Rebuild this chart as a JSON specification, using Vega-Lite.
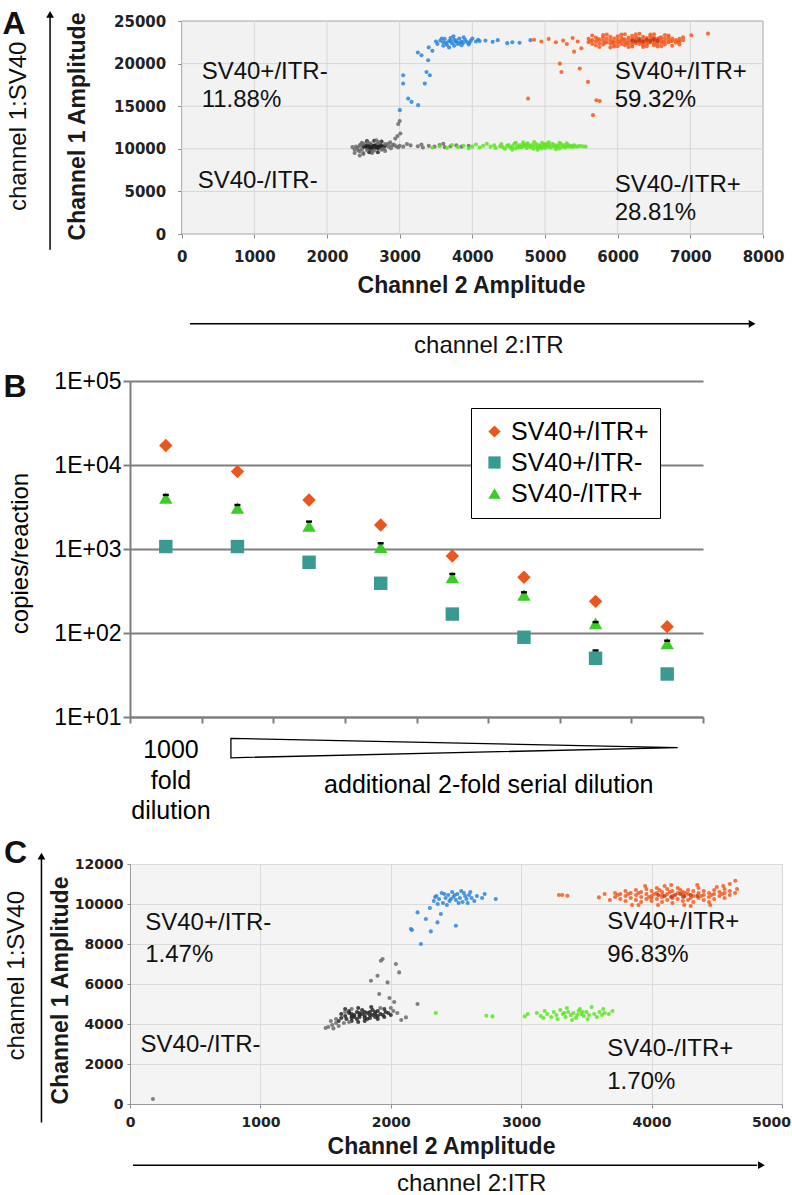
{
  "$schema": "https://vega.github.io/schema/vega-lite/v6.json",
  "background": "white",
  "padding": {"left": 2, "top": 7, "right": 0, "bottom": 0},
  "spacing": 12,
  "resolve": {"scale": {"color": "independent", "shape": "independent"}, "legend": {"color": "independent", "shape": "independent"}},
  "config": {"font": "Liberation Sans", "view": {"stroke": null}},
  "datasets": {
    "ptsA": [
      {"c":"k","x":2550,"y":10200},{"c":"k","x":2600,"y":10300},{"c":"k","x":2650,"y":10150},{"c":"k","x":2700,"y":10250},{"c":"k","x":2580,"y":10380},{"c":"k","x":2620,"y":10100},{"c":"k","x":2680,"y":10400},{"c":"k","x":2720,"y":10150},{"c":"k","x":2560,"y":10050},{"c":"k","x":2640,"y":10350},{"c":"k","x":2700,"y":10050},{"c":"k","x":2760,"y":10300},{"c":"k","x":2600,"y":10450},{"c":"k","x":2660,"y":10250},{"c":"k","x":2740,"y":10450},{"c":"k","x":2520,"y":10300},{"c":"k","x":2580,"y":10150},{"c":"k","x":2640,"y":10000},{"c":"k","x":2700,"y":10350},{"c":"k","x":2780,"y":10200},{"c":"k","x":2620,"y":10250},{"c":"k","x":2680,"y":10200},{"c":"k","x":2560,"y":10250},{"c":"k","x":2600,"y":10150},{"c":"k","x":2660,"y":10400},{"c":"k","x":2720,"y":10300},{"c":"k","x":2500,"y":10200},{"c":"k","x":2760,"y":10100},{"c":"k","x":2540,"y":10400},{"c":"k","x":2800,"y":10350},
      {"c":"k","x":2600,"y":9700},{"c":"k","x":2700,"y":9600},{"c":"k","x":2550,"y":10900},{"c":"k","x":2650,"y":10950},{"c":"k","x":2750,"y":10850},{"c":"h","x":2500,"y":9500},{"c":"h","x":2800,"y":9750},{"c":"h","x":2620,"y":9500},{"c":"h","x":2680,"y":11000},{"c":"k","x":2580,"y":9600},
      {"c":"h","x":2420,"y":10100},{"c":"h","x":2450,"y":10350},{"c":"h","x":2480,"y":9950},{"c":"h","x":2460,"y":10500},{"c":"h","x":2400,"y":10250},{"c":"h","x":2380,"y":9900},{"c":"h","x":2430,"y":9800},{"c":"h","x":2500,"y":10600},{"c":"h","x":2550,"y":9850},{"c":"h","x":2600,"y":10650},{"c":"h","x":2650,"y":9800},{"c":"h","x":2700,"y":10650},{"c":"h","x":2750,"y":9900},{"c":"h","x":2800,"y":10550},{"c":"h","x":2850,"y":10250},{"c":"h","x":2880,"y":10050},{"c":"h","x":2900,"y":10400},{"c":"h","x":2840,"y":10600},{"c":"h","x":2950,"y":10300},{"c":"h","x":2980,"y":10150},{"c":"h","x":2870,"y":10750},{"c":"h","x":2560,"y":10750},{"c":"h","x":2450,"y":9700},{"c":"h","x":2620,"y":9650},{"c":"h","x":2780,"y":10000},{"c":"h","x":2920,"y":10500},{"c":"h","x":2350,"y":10200},{"c":"h","x":2480,"y":10700},{"c":"h","x":2720,"y":10750},{"c":"h","x":3000,"y":10350},
      {"c":"h","x":3050,"y":10250},{"c":"h","x":3150,"y":10400},{"c":"h","x":3250,"y":10300},{"c":"h","x":3320,"y":10150},{"c":"h","x":3400,"y":10350},{"c":"h","x":3480,"y":10250},{"c":"h","x":3550,"y":10450},{"c":"h","x":3620,"y":10200},{"c":"h","x":3700,"y":10300},{"c":"h","x":3780,"y":10400},{"c":"h","x":3850,"y":10250},{"c":"h","x":3950,"y":10350},{"c":"h","x":3100,"y":10550},{"c":"h","x":3300,"y":10500},{"c":"h","x":3600,"y":10600},
      {"c":"h","x":2980,"y":12900},{"c":"h","x":3000,"y":13250},{"c":"h","x":2970,"y":11500},{"c":"h","x":3010,"y":11800},{"c":"h","x":2940,"y":11200},{"c":"h","x":2450,"y":9200},{"c":"h","x":2500,"y":9400},{"c":"h","x":2380,"y":9500},
      {"c":"g","x":3450,"y":10150},{"c":"g","x":3550,"y":10300},{"c":"g","x":3650,"y":10100},{"c":"g","x":3720,"y":10450},{"c":"g","x":3800,"y":10200},{"c":"g","x":3880,"y":10350},{"c":"g","x":3950,"y":10050},{"c":"g","x":4000,"y":10250},{"c":"g","x":4050,"y":10500},{"c":"g","x":4100,"y":10150},{"c":"g","x":4150,"y":10350},{"c":"g","x":4200,"y":10600},
      {"c":"g","x":4250,"y":10250},{"c":"g","x":4300,"y":10400},{"c":"g","x":4320,"y":10100},{"c":"g","x":4380,"y":10300},{"c":"g","x":4400,"y":10550},{"c":"g","x":4420,"y":10200},{"c":"g","x":4450,"y":10000},{"c":"g","x":4480,"y":10350},{"c":"g","x":4500,"y":10450},{"c":"g","x":4520,"y":10150},{"c":"g","x":4550,"y":10300},{"c":"g","x":4580,"y":10600},{"c":"g","x":4600,"y":10050},{"c":"g","x":4620,"y":10250},{"c":"g","x":4650,"y":10400},{"c":"g","x":4680,"y":10200},{"c":"g","x":4700,"y":10500},{"c":"g","x":4720,"y":10300},{"c":"g","x":4750,"y":10100},{"c":"g","x":4760,"y":10650},{"c":"g","x":4780,"y":10350},{"c":"g","x":4800,"y":10200},{"c":"g","x":4820,"y":10450},{"c":"g","x":4840,"y":10000},{"c":"g","x":4860,"y":10300},{"c":"g","x":4880,"y":10550},{"c":"g","x":4900,"y":10150},{"c":"g","x":4920,"y":10400},{"c":"g","x":4940,"y":10250},{"c":"g","x":4960,"y":10700},{"c":"g","x":4980,"y":10350},{"c":"g","x":5000,"y":10100},{"c":"g","x":5020,"y":10500},{"c":"g","x":5040,"y":10250},{"c":"g","x":5060,"y":10400},{"c":"g","x":5080,"y":10150},{"c":"g","x":5100,"y":10600},{"c":"g","x":5120,"y":10300},{"c":"g","x":5140,"y":10450},{"c":"g","x":5160,"y":10200},{"c":"g","x":5180,"y":10350},{"c":"g","x":5200,"y":10050},{"c":"g","x":5220,"y":10550},{"c":"g","x":5240,"y":10250},{"c":"g","x":5260,"y":10400},{"c":"g","x":5280,"y":10150},{"c":"g","x":5300,"y":10300},{"c":"g","x":5320,"y":10450},{"c":"g","x":5340,"y":10250},{"c":"g","x":5360,"y":10350},{"c":"g","x":5380,"y":10200},{"c":"g","x":5400,"y":10400},{"c":"g","x":5420,"y":10300},{"c":"g","x":5450,"y":10250},{"c":"g","x":5480,"y":10350},{"c":"g","x":5520,"y":10300},{"c":"g","x":5560,"y":10250},{"c":"g","x":4700,"y":10750},{"c":"g","x":4850,"y":10800},{"c":"g","x":5050,"y":10750},{"c":"g","x":4900,"y":9900},{"c":"g","x":5150,"y":9950},{"c":"g","x":4600,"y":10700},{"c":"g","x":5300,"y":10650},{"c":"g","x":4550,"y":9900},{"c":"g","x":5000,"y":10550},{"c":"g","x":4750,"y":10500},{"c":"g","x":4650,"y":10150},{"c":"g","x":4950,"y":10050},{"c":"g","x":5200,"y":10700},
      {"c":"b","x":3520,"y":22300},{"c":"b","x":3560,"y":22700},{"c":"b","x":3600,"y":22500},{"c":"b","x":3620,"y":22900},{"c":"b","x":3650,"y":22200},{"c":"b","x":3680,"y":22650},{"c":"b","x":3700,"y":23000},{"c":"b","x":3720,"y":22400},{"c":"b","x":3750,"y":22800},{"c":"b","x":3770,"y":22550},{"c":"b","x":3800,"y":22300},{"c":"b","x":3820,"y":22950},{"c":"b","x":3850,"y":22600},{"c":"b","x":3870,"y":22400},{"c":"b","x":3900,"y":22800},{"c":"b","x":3920,"y":22550},{"c":"b","x":3950,"y":22250},{"c":"b","x":3980,"y":22700},{"c":"b","x":4000,"y":22950},{"c":"b","x":4050,"y":22600},{"c":"b","x":4080,"y":22800},{"c":"b","x":3600,"y":22100},{"c":"b","x":3680,"y":21900},{"c":"b","x":3750,"y":22100},{"c":"b","x":3850,"y":22150},{"c":"b","x":3580,"y":22950},{"c":"b","x":3700,"y":22650},{"c":"b","x":3780,"y":22700},{"c":"b","x":3880,"y":23100},{"c":"b","x":3960,"y":22450},{"c":"b","x":3640,"y":22450},{"c":"b","x":3820,"y":22450},{"c":"b","x":3740,"y":23200},{"c":"b","x":4100,"y":22650},{"c":"b","x":3500,"y":22600},
      {"c":"b","x":4180,"y":22700},{"c":"b","x":4280,"y":22550},{"c":"b","x":4350,"y":22750},{"c":"b","x":4480,"y":22400},{"c":"b","x":4550,"y":22500},{"c":"b","x":4650,"y":22450},{"c":"b","x":4800,"y":22750},
      {"c":"b","x":3300,"y":20979},{"c":"b","x":3392,"y":20393},{"c":"b","x":3369,"y":19021},{"c":"b","x":3415,"y":18635},{"c":"b","x":3346,"y":17650},{"c":"b","x":3048,"y":18635},{"c":"b","x":3048,"y":17650},{"c":"b","x":3117,"y":15893},{"c":"b","x":3163,"y":15506},{"c":"b","x":3254,"y":15119},{"c":"b","x":3002,"y":14533},{"c":"b","x":3450,"y":21500},{"c":"b","x":3250,"y":21300},{"c":"b","x":3400,"y":21900},
      {"c":"o","x":4850,"y":22800},{"c":"o","x":4950,"y":22600},{"c":"o","x":5050,"y":22900},{"c":"o","x":5150,"y":22500},{"c":"o","x":5250,"y":22700},{"c":"o","x":5300,"y":22300},{"c":"o","x":5380,"y":23000},{"c":"o","x":5450,"y":22600},{"c":"o","x":5204,"y":19997},{"c":"o","x":5226,"y":19021},{"c":"o","x":5478,"y":19412},{"c":"o","x":5592,"y":17850},{"c":"o","x":5707,"y":15704},{"c":"o","x":5753,"y":15600},{"c":"o","x":5661,"y":13947},{"c":"o","x":4767,"y":15893},{"c":"o","x":7243,"y":23511},{"c":"o","x":7014,"y":23326},{"c":"o","x":5500,"y":21800},{"c":"o","x":5400,"y":21400},
      {"c":"o","x":5600,"y":22500},{"c":"o","x":5600,"y":22900},{"c":"o","x":5650,"y":22300},{"c":"o","x":5650,"y":22750},{"c":"o","x":5700,"y":22600},{"c":"o","x":5700,"y":23050},{"c":"o","x":5700,"y":22150},{"c":"o","x":5750,"y":22400},{"c":"o","x":5750,"y":22850},{"c":"o","x":5800,"y":22700},{"c":"o","x":5800,"y":22250},{"c":"o","x":5800,"y":23100},{"c":"o","x":5850,"y":22500},{"c":"o","x":5850,"y":22900},{"c":"o","x":5900,"y":22350},{"c":"o","x":5900,"y":22750},{"c":"o","x":5900,"y":23150},{"c":"o","x":5950,"y":22600},{"c":"o","x":5950,"y":22200},{"c":"o","x":5950,"y":22950},{"c":"o","x":6000,"y":22450},{"c":"o","x":6000,"y":22800},{"c":"o","x":6000,"y":23200},{"c":"o","x":6050,"y":22650},{"c":"o","x":6050,"y":22300},{"c":"o","x":6050,"y":23000},{"c":"o","x":6100,"y":22500},{"c":"o","x":6100,"y":22850},{"c":"o","x":6100,"y":22150},{"c":"o","x":6150,"y":22700},{"c":"o","x":6150,"y":22350},{"c":"o","x":6150,"y":23050},{"c":"o","x":6200,"y":22550},{"c":"o","x":6200,"y":22900},{"c":"o","x":6200,"y":22250},{"c":"o","x":6200,"y":23250},{"c":"o","x":6250,"y":22750},{"c":"o","x":6250,"y":22400},{"c":"o","x":6250,"y":23100},{"c":"o","x":6300,"y":22600},{"c":"o","x":6300,"y":22950},{"c":"o","x":6300,"y":22300},{"c":"o","x":6350,"y":22800},{"c":"o","x":6350,"y":22450},{"c":"o","x":6350,"y":23150},{"c":"o","x":6350,"y":22150},{"c":"o","x":6400,"y":22650},{"c":"o","x":6400,"y":23000},{"c":"o","x":6400,"y":22350},{"c":"o","x":6450,"y":22850},{"c":"o","x":6450,"y":22500},{"c":"o","x":6450,"y":23200},{"c":"o","x":6500,"y":22700},{"c":"o","x":6500,"y":22400},{"c":"o","x":6500,"y":23050},{"c":"o","x":6500,"y":22150},{"c":"o","x":6550,"y":22900},{"c":"o","x":6550,"y":22550},{"c":"o","x":6550,"y":22300},{"c":"o","x":6600,"y":22750},{"c":"o","x":6600,"y":23100},{"c":"o","x":6600,"y":22450},{"c":"o","x":6650,"y":22600},{"c":"o","x":6650,"y":22950},{"c":"o","x":6650,"y":22250},{"c":"o","x":6700,"y":22800},{"c":"o","x":6700,"y":22500},{"c":"o","x":6700,"y":23150},{"c":"o","x":6750,"y":22650},{"c":"o","x":6750,"y":22950},{"c":"o","x":6800,"y":22750},{"c":"o","x":6800,"y":22450},{"c":"o","x":6850,"y":22900},{"c":"o","x":6850,"y":22600},{"c":"o","x":6900,"y":22750},
      {"c":"o","x":5625,"y":22650},{"c":"o","x":5725,"y":22850},{"c":"o","x":5825,"y":22450},{"c":"o","x":5925,"y":22500},{"c":"o","x":6025,"y":22600},{"c":"o","x":6125,"y":22400},{"c":"o","x":6225,"y":22700},{"c":"o","x":6325,"y":22500},{"c":"o","x":6425,"y":22450},{"c":"o","x":6525,"y":22600},{"c":"o","x":6625,"y":22500},{"c":"o","x":6725,"y":22650},{"c":"o","x":6825,"y":22600},{"c":"o","x":6075,"y":22850},{"c":"o","x":6275,"y":22950},{"c":"o","x":6475,"y":22950},{"c":"o","x":6575,"y":23000},
      {"c":"o","x":5650,"y":23300},{"c":"o","x":5750,"y":21950},{"c":"o","x":5850,"y":23400},{"c":"o","x":5950,"y":22000},{"c":"o","x":6050,"y":23400},{"c":"o","x":6150,"y":21950},{"c":"o","x":6250,"y":23450},{"c":"o","x":6350,"y":21950},{"c":"o","x":6450,"y":23400},{"c":"o","x":6550,"y":22000},{"c":"o","x":6650,"y":23350},{"c":"o","x":6750,"y":22100},{"c":"o","x":5900,"y":21900},{"c":"o","x":6100,"y":23450},{"c":"o","x":6300,"y":23500},{"c":"o","x":6500,"y":23450},{"c":"o","x":6700,"y":23300},{"c":"o","x":6200,"y":22000},{"c":"o","x":6400,"y":22050},{"c":"o","x":6600,"y":22050},{"c":"o","x":6000,"y":22050},{"c":"o","x":5800,"y":23350},{"c":"o","x":6850,"y":22250},{"c":"o","x":6900,"y":23100},
      {"c":"r","x":6200,"y":22700},{"c":"r","x":6300,"y":22750},{"c":"r","x":6400,"y":22800},{"c":"r","x":6450,"y":22650},{"c":"r","x":6550,"y":22700},{"c":"r","x":6350,"y":22600},{"c":"r","x":6500,"y":22850},{"c":"r","x":6250,"y":22600}
    ],
    "ptsC": [
      {"c":"k","x":1650,"y":4400},{"c":"k","x":1680,"y":4550},{"c":"k","x":1700,"y":4300},{"c":"k","x":1720,"y":4450},{"c":"k","x":1740,"y":4600},{"c":"k","x":1760,"y":4350},{"c":"k","x":1780,"y":4500},{"c":"k","x":1800,"y":4400},{"c":"k","x":1820,"y":4550},{"c":"k","x":1840,"y":4300},{"c":"k","x":1860,"y":4450},{"c":"k","x":1880,"y":4600},{"c":"k","x":1900,"y":4400},{"c":"k","x":1920,"y":4500},{"c":"k","x":1700,"y":4500},{"c":"k","x":1760,"y":4450},{"c":"k","x":1800,"y":4600},{"c":"k","x":1840,"y":4450},{"c":"k","x":1880,"y":4350},{"c":"k","x":1660,"y":4250},{"c":"k","x":1740,"y":4250},{"c":"k","x":1820,"y":4250},{"c":"k","x":1900,"y":4650},{"c":"k","x":1940,"y":4450},{"c":"k","x":1960,"y":4600},{"c":"k","x":1620,"y":4300},{"c":"k","x":1680,"y":4650},{"c":"k","x":1780,"y":4700},{"c":"k","x":1860,"y":4700},{"c":"k","x":1720,"y":4350},{"c":"k","x":1800,"y":4300},{"c":"k","x":1880,"y":4500},{"c":"k","x":1760,"y":4550},{"c":"k","x":1840,"y":4600},{"c":"k","x":1700,"y":4400},{"c":"k","x":1950,"y":4350},{"c":"k","x":1980,"y":4550},{"c":"k","x":2000,"y":4450},{"c":"k","x":1620,"y":4500},{"c":"k","x":1600,"y":4150},
      {"c":"k","x":1750,"y":4800},{"c":"k","x":1850,"y":4850},{"c":"k","x":1650,"y":4750},{"c":"k","x":1950,"y":4750},{"c":"k","x":1800,"y":4150},{"c":"k","x":1700,"y":4150},{"c":"k","x":1900,"y":4250},{"c":"k","x":1750,"y":4100},
      {"c":"h","x":1580,"y":4050},{"c":"h","x":1550,"y":3950},{"c":"h","x":1520,"y":3850},{"c":"h","x":1500,"y":3800},{"c":"h","x":1560,"y":3780},{"c":"h","x":1600,"y":3900},{"c":"h","x":1640,"y":4050},{"c":"h","x":1680,"y":4100},{"c":"h","x":1580,"y":4250},{"c":"h","x":2020,"y":4650},{"c":"h","x":2050,"y":4550},{"c":"h","x":2000,"y":4800},{"c":"h","x":1920,"y":4800},{"c":"h","x":1700,"y":4750},{"c":"h","x":1650,"y":4600},{"c":"h","x":1540,"y":4150},
      {"c":"h","x":1924,"y":7165},{"c":"h","x":1848,"y":6165},{"c":"h","x":1898,"y":6415},{"c":"h","x":1911,"y":5500},{"c":"h","x":2039,"y":7000},{"c":"h","x":2064,"y":6580},{"c":"h","x":1975,"y":6080},{"c":"h","x":2026,"y":5100},{"c":"h","x":1990,"y":5300},{"c":"h","x":2205,"y":5000},{"c":"h","x":2116,"y":4330},{"c":"h","x":2080,"y":4200},{"c":"h","x":176,"y":250},{"c":"h","x":1937,"y":7250},
      {"c":"b","x":2330,"y":10150},{"c":"b","x":2350,"y":10400},{"c":"b","x":2370,"y":10250},{"c":"b","x":2390,"y":10550},{"c":"b","x":2400,"y":10050},{"c":"b","x":2420,"y":10300},{"c":"b","x":2440,"y":10450},{"c":"b","x":2450,"y":10150},{"c":"b","x":2470,"y":10600},{"c":"b","x":2480,"y":10350},{"c":"b","x":2500,"y":10200},{"c":"b","x":2510,"y":10500},{"c":"b","x":2530,"y":10300},{"c":"b","x":2540,"y":10650},{"c":"b","x":2550,"y":10100},{"c":"b","x":2570,"y":10400},{"c":"b","x":2580,"y":10250},{"c":"b","x":2600,"y":10450},{"c":"b","x":2620,"y":10300},{"c":"b","x":2640,"y":10150},{"c":"b","x":2660,"y":10400},{"c":"b","x":2700,"y":10300},{"c":"b","x":2360,"y":10000},{"c":"b","x":2430,"y":9950},{"c":"b","x":2520,"y":10050},{"c":"b","x":2460,"y":10250},{"c":"b","x":2560,"y":10550},{"c":"b","x":2610,"y":10600},{"c":"b","x":2490,"y":10450},{"c":"b","x":2410,"y":10500},{"c":"b","x":2340,"y":10350},{"c":"b","x":2590,"y":10050},
      {"c":"b","x":2805,"y":10250},{"c":"b","x":2205,"y":9580},{"c":"b","x":2269,"y":9250},{"c":"b","x":2358,"y":9080},{"c":"b","x":2154,"y":8750},{"c":"b","x":2162,"y":8700},{"c":"b","x":2307,"y":8630},{"c":"b","x":2231,"y":8000},{"c":"b","x":2499,"y":8915},{"c":"b","x":2384,"y":9500},{"c":"b","x":2300,"y":9800},{"c":"b","x":2720,"y":10500},
      {"c":"o","x":3289,"y":10450},{"c":"o","x":3315,"y":10450},{"c":"o","x":3354,"y":10415},{"c":"o","x":3596,"y":10330},{"c":"o","x":3640,"y":10500},{"c":"o","x":3680,"y":10200},{"c":"o","x":4642,"y":11165},{"c":"o","x":4655,"y":10750},{"c":"o","x":4600,"y":11000},
      {"c":"o","x":3720,"y":10350},{"c":"o","x":3720,"y":10550},{"c":"o","x":3760,"y":10250},{"c":"o","x":3760,"y":10500},{"c":"o","x":3800,"y":10400},{"c":"o","x":3800,"y":10150},{"c":"o","x":3800,"y":10650},{"c":"o","x":3840,"y":10300},{"c":"o","x":3840,"y":10550},{"c":"o","x":3880,"y":10450},{"c":"o","x":3880,"y":10200},{"c":"o","x":3880,"y":10700},{"c":"o","x":3920,"y":10350},{"c":"o","x":3920,"y":10100},{"c":"o","x":3920,"y":10600},{"c":"o","x":3960,"y":10500},{"c":"o","x":3960,"y":10250},{"c":"o","x":3960,"y":10750},{"c":"o","x":4000,"y":10400},{"c":"o","x":4000,"y":10150},{"c":"o","x":4000,"y":10650},{"c":"o","x":4000,"y":10300},{"c":"o","x":4040,"y":10550},{"c":"o","x":4040,"y":10250},{"c":"o","x":4040,"y":10800},{"c":"o","x":4080,"y":10350},{"c":"o","x":4080,"y":10100},{"c":"o","x":4080,"y":10600},{"c":"o","x":4080,"y":10450},{"c":"o","x":4120,"y":10500},{"c":"o","x":4120,"y":10200},{"c":"o","x":4120,"y":10750},{"c":"o","x":4160,"y":10400},{"c":"o","x":4160,"y":10050},{"c":"o","x":4160,"y":10650},{"c":"o","x":4160,"y":10300},{"c":"o","x":4200,"y":10550},{"c":"o","x":4200,"y":10250},{"c":"o","x":4200,"y":10800},{"c":"o","x":4240,"y":10350},{"c":"o","x":4240,"y":10150},{"c":"o","x":4240,"y":10600},{"c":"o","x":4240,"y":10450},{"c":"o","x":4280,"y":10500},{"c":"o","x":4280,"y":10200},{"c":"o","x":4280,"y":10700},{"c":"o","x":4320,"y":10400},{"c":"o","x":4320,"y":10100},{"c":"o","x":4320,"y":10650},{"c":"o","x":4360,"y":10550},{"c":"o","x":4360,"y":10300},{"c":"o","x":4360,"y":10800},{"c":"o","x":4400,"y":10450},{"c":"o","x":4400,"y":10200},{"c":"o","x":4400,"y":10650},{"c":"o","x":4440,"y":10350},{"c":"o","x":4440,"y":10550},{"c":"o","x":4440,"y":10100},{"c":"o","x":4480,"y":10500},{"c":"o","x":4480,"y":10250},{"c":"o","x":4480,"y":10700},{"c":"o","x":4520,"y":10400},{"c":"o","x":4520,"y":10600},{"c":"o","x":4560,"y":10300},{"c":"o","x":4560,"y":10550},{"c":"o","x":4560,"y":10750},{"c":"o","x":4600,"y":10450},{"c":"o","x":4600,"y":10650},{"c":"o","x":4640,"y":10550},
      {"c":"o","x":3740,"y":10450},{"c":"o","x":3820,"y":10500},{"c":"o","x":3900,"y":10550},{"c":"o","x":3980,"y":10350},{"c":"o","x":4060,"y":10700},{"c":"o","x":4140,"y":10600},{"c":"o","x":4220,"y":10700},{"c":"o","x":4300,"y":10300},{"c":"o","x":4380,"y":10400},{"c":"o","x":4460,"y":10450},{"c":"o","x":4540,"y":10500},{"c":"o","x":4020,"y":10500},{"c":"o","x":4260,"y":10550},
      {"c":"o","x":3850,"y":9950},{"c":"o","x":3950,"y":10900},{"c":"o","x":4050,"y":9950},{"c":"o","x":4150,"y":10950},{"c":"o","x":4250,"y":9950},{"c":"o","x":4350,"y":10950},{"c":"o","x":4450,"y":9950},{"c":"o","x":4550,"y":10900},{"c":"o","x":4100,"y":10900},{"c":"o","x":4300,"y":9900},{"c":"o","x":3900,"y":9950},{"c":"o","x":4500,"y":10850},
      {"c":"r","x":4100,"y":10400},{"c":"r","x":4180,"y":10450},{"c":"r","x":4250,"y":10380},{"c":"r","x":4300,"y":10450},{"c":"r","x":4150,"y":10350},{"c":"r","x":4220,"y":10500},{"c":"r","x":4350,"y":10400},{"c":"r","x":4050,"y":10450},
      {"c":"g","x":2345,"y":4550},{"c":"g","x":2733,"y":4415},{"c":"g","x":2780,"y":4380},{"c":"g","x":3027,"y":4380},{"c":"g","x":3050,"y":4500},
      {"c":"g","x":3120,"y":4550},{"c":"g","x":3150,"y":4400},{"c":"g","x":3180,"y":4650},{"c":"g","x":3200,"y":4500},{"c":"g","x":3230,"y":4350},{"c":"g","x":3250,"y":4600},{"c":"g","x":3270,"y":4450},{"c":"g","x":3300,"y":4700},{"c":"g","x":3320,"y":4500},{"c":"g","x":3340,"y":4350},{"c":"g","x":3360,"y":4600},{"c":"g","x":3380,"y":4450},{"c":"g","x":3400,"y":4550},{"c":"g","x":3420,"y":4300},{"c":"g","x":3440,"y":4650},{"c":"g","x":3460,"y":4500},{"c":"g","x":3480,"y":4400},{"c":"g","x":3500,"y":4600},{"c":"g","x":3520,"y":4450},{"c":"g","x":3540,"y":4850},{"c":"g","x":3560,"y":4500},{"c":"g","x":3580,"y":4350},{"c":"g","x":3600,"y":4600},{"c":"g","x":3620,"y":4450},{"c":"g","x":3640,"y":4550},{"c":"g","x":3672,"y":4500},{"c":"g","x":3629,"y":4750},{"c":"g","x":3350,"y":4800},{"c":"g","x":3450,"y":4750},{"c":"g","x":3280,"y":4250},{"c":"g","x":3390,"y":4200},{"c":"g","x":3700,"y":4650},{"c":"g","x":3170,"y":4300},{"c":"g","x":3510,"y":4250},{"c":"g","x":3430,"y":4450},{"c":"g","x":3330,"y":4550},{"c":"g","x":3470,"y":4600}
    ],
    "ptsB": [
      {"i":1,"v":17100,"s":"SV40+/ITR+"},{"i":2,"v":8340,"s":"SV40+/ITR+"},{"i":3,"v":3830,"s":"SV40+/ITR+"},{"i":4,"v":1930,"s":"SV40+/ITR+"},{"i":5,"v":826,"s":"SV40+/ITR+"},{"i":6,"v":460,"s":"SV40+/ITR+"},{"i":7,"v":238,"s":"SV40+/ITR+"},{"i":8,"v":119,"s":"SV40+/ITR+"},
      {"i":1,"v":1070,"s":"SV40+/ITR-"},{"i":2,"v":1070,"s":"SV40+/ITR-"},{"i":3,"v":695,"s":"SV40+/ITR-"},{"i":4,"v":391,"s":"SV40+/ITR-"},{"i":5,"v":168,"s":"SV40+/ITR-"},{"i":6,"v":89,"s":"SV40+/ITR-"},{"i":7,"v":50,"s":"SV40+/ITR-"},{"i":8,"v":32.5,"s":"SV40+/ITR-"},
      {"i":1,"v":4050,"s":"SV40-/ITR+"},{"i":2,"v":3080,"s":"SV40-/ITR+"},{"i":3,"v":1880,"s":"SV40-/ITR+"},{"i":4,"v":1050,"s":"SV40-/ITR+"},{"i":5,"v":460,"s":"SV40-/ITR+"},{"i":6,"v":283,"s":"SV40-/ITR+"},{"i":7,"v":130,"s":"SV40-/ITR+"},{"i":8,"v":75,"s":"SV40-/ITR+"}
    ],
    "capsB": [
      {"i":1,"v":4400},{"i":2,"v":3340},{"i":3,"v":2120},{"i":4,"v":1170},{"i":5,"v":504},{"i":6,"v":305},{"i":7,"v":135},{"i":8,"v":81},{"i":7,"v":62}
    ]
  },
  "vconcat": [
    {
      "width": 633,
      "height": 213,
      "layer": [
        {
          "data": {"values": [{"x1":0,"x2":8000,"y1":0,"y2":25000}]},
          "mark": {"type": "rect", "fill": "#F2F2F2", "stroke": "#A6A6A6", "strokeWidth": 1},
          "encoding": {
            "x": {"field": "x1", "type": "quantitative", "scale": {"domain": [-711, 8000], "nice": false, "zero": false}},
            "x2": {"field": "x2"},
            "y": {"field": "y1", "type": "quantitative", "scale": {"domain": [0, 25000], "nice": false}},
            "y2": {"field": "y2"}
          }
        },
        {
          "data": {"values": [{"gx":1000},{"gx":2000},{"gx":3000},{"gx":4000},{"gx":5000},{"gx":6000},{"gx":7000}]},
          "mark": {"type": "rule", "color": "#D6D6D6", "strokeWidth": 1},
          "encoding": {
            "x": {"field": "gx", "type": "quantitative", "scale": {"domain": [-711, 8000], "nice": false, "zero": false}},
            "y": {"datum": 0, "type": "quantitative", "scale": {"domain": [0, 25000], "nice": false}},
            "y2": {"datum": 25000}
          }
        },
        {
          "data": {"values": [{"gy":5000},{"gy":10000},{"gy":15000},{"gy":20000}]},
          "mark": {"type": "rule", "color": "#D6D6D6", "strokeWidth": 1},
          "encoding": {
            "y": {"field": "gy", "type": "quantitative", "scale": {"domain": [0, 25000], "nice": false}},
            "x": {"datum": 0, "type": "quantitative", "scale": {"domain": [-711, 8000], "nice": false, "zero": false}},
            "x2": {"datum": 8000}
          }
        },
        {
          "data": {"name": "ptsA"},
          "mark": {"type": "circle", "size": 17, "opacity": 0.85},
          "encoding": {
            "x": {"field": "x", "type": "quantitative", "scale": {"domain": [-711, 8000], "nice": false, "zero": false},
              "axis": {"values": [0,1000,2000,3000,4000,5000,6000,7000,8000], "format": "d", "domain": false, "grid": false, "title": "Channel 2 Amplitude", "titleFont": "Liberation Sans", "titleFontSize": 23, "titleFontWeight": "bold", "titleColor": "#1a1a1a", "titleX": 341, "titleY": 51, "titleBaseline": "middle", "titleAlign": "center", "labelFont": "DejaVu Sans", "labelFontWeight": "bold", "labelFontSize": 15, "labelColor": "#222", "labelPadding": 11, "labelFlush": false, "labelOverlap": false, "labelSeparation": 0, "tickSize": 4, "tickColor": "#8a8a8a"}},
            "y": {"field": "y", "type": "quantitative", "scale": {"domain": [0, 25000], "nice": false},
              "axis": {"values": [0,5000,10000,15000,20000,25000], "format": "d", "offset": -51.7, "domain": false, "grid": false, "title": "Channel 1 Amplitude", "titleFont": "Liberation Sans", "titleFontSize": 23, "titleFontWeight": "bold", "titleColor": "#1a1a1a", "titleX": -104, "titleY": 105, "titleAngle": 270, "titleBaseline": "middle", "titleAlign": "center", "labelFont": "DejaVu Sans", "labelFontWeight": "bold", "labelFontSize": 15, "labelColor": "#222", "labelPadding": 12, "labelFlush": false, "labelOverlap": false, "labelSeparation": 0, "tickSize": 4, "tickColor": "#8a8a8a"}},
            "color": {"field": "c", "type": "nominal", "scale": {"domain": ["k","h","g","b","o","r"], "range": ["#262626","#6b6b6b","#5BE620","#2A86DE","#F45A1E","#BF3A18"]}, "legend": null}
          }
        },
        {
          "data": {"values": [{"t":"SV40+/ITR-","x":275,"y":18202},{"t":"11.88%","x":275,"y":14920},{"t":"SV40-/ITR-","x":220,"y":5344},{"t":"SV40+/ITR+","x":5959,"y":18202},{"t":"59.32%","x":5959,"y":14920},{"t":"SV40-/ITR+","x":5959,"y":4876},{"t":"28.81%","x":5959,"y":1641}]},
          "mark": {"type": "text", "align": "left", "baseline": "alphabetic", "fontSize": 24, "font": "Liberation Sans", "color": "#111"},
          "encoding": {
            "x": {"field": "x", "type": "quantitative", "scale": {"domain": [-711, 8000], "nice": false, "zero": false}},
            "y": {"field": "y", "type": "quantitative", "scale": {"domain": [0, 25000], "nice": false}},
            "text": {"field": "t"}
          }
        },
        {
          "data": {"values": [{"t":"A","x":-2306,"y":23475}]},
          "mark": {"type": "text", "align": "center", "baseline": "alphabetic", "fontSize": 32, "fontWeight": "bold", "font": "Liberation Sans", "color": "#111"},
          "encoding": {
            "x": {"field": "x", "type": "quantitative", "scale": {"domain": [-711, 8000], "nice": false, "zero": false}},
            "y": {"field": "y", "type": "quantitative", "scale": {"domain": [0, 25000], "nice": false}},
            "text": {"field": "t"}
          }
        },
        {
          "data": {"values": [{"t":"channel 1:SV40","x":-2238,"y":12634}]},
          "mark": {"type": "text", "align": "center", "baseline": "middle", "angle": 270, "fontSize": 24, "font": "Liberation Sans", "color": "#111"},
          "encoding": {
            "x": {"field": "x", "type": "quantitative", "scale": {"domain": [-711, 8000], "nice": false, "zero": false}},
            "y": {"field": "y", "type": "quantitative", "scale": {"domain": [0, 25000], "nice": false}},
            "text": {"field": "t"}
          }
        },
        {
          "data": {"values": [{"t":"channel 2:ITR","x":4226,"y":-13091}]},
          "mark": {"type": "text", "align": "center", "baseline": "middle", "fontSize": 24, "font": "Liberation Sans", "color": "#111"},
          "encoding": {
            "x": {"field": "x", "type": "quantitative", "scale": {"domain": [-711, 8000], "nice": false, "zero": false}},
            "y": {"field": "y", "type": "quantitative", "scale": {"domain": [0, 25000], "nice": false}},
            "text": {"field": "t"}
          }
        },
        {
          "data": {"values": [{"x1":-1811,"x2":-1811,"y1":-1840,"y2":25700},{"x1":114,"x2":7820,"y1":-10548,"y2":-10548}]},
          "mark": {"type": "rule", "color": "black", "strokeWidth": 1.5},
          "encoding": {
            "x": {"field": "x1", "type": "quantitative", "scale": {"domain": [-711, 8000], "nice": false, "zero": false}},
            "x2": {"field": "x2"},
            "y": {"field": "y1", "type": "quantitative", "scale": {"domain": [0, 25000], "nice": false}},
            "y2": {"field": "y2"}
          }
        },
        {
          "data": {"values": [{"x":-1811,"y":25780,"s":"triangle-up"},{"x":7850,"y":-10548,"s":"triangle-right"}]},
          "mark": {"type": "point", "filled": true, "color": "black", "size": 60, "opacity": 1},
          "encoding": {
            "x": {"field": "x", "type": "quantitative", "scale": {"domain": [-711, 8000], "nice": false, "zero": false}},
            "y": {"field": "y", "type": "quantitative", "scale": {"domain": [0, 25000], "nice": false}},
            "shape": {"field": "s", "type": "nominal", "scale": null, "legend": null}
          }
        }
      ]
    },
    {
      "width": 573,
      "height": 336,
      "layer": [
        {
          "data": {"values": [{"wx":1.909,"y1":5.56,"y2":3.27},{"wx":8.146,"y1":4.32,"y2":4.32}]},
          "mark": {"type": "area", "fill": "white", "stroke": "black", "strokeWidth": 1.3},
          "encoding": {
            "x": {"field": "wx", "type": "quantitative", "scale": {"domain": [0.5, 8.5], "nice": false, "zero": false}},
            "y": {"field": "y1", "type": "quantitative", "scale": {"type": "log", "domain": [10, 100000], "nice": false}},
            "y2": {"field": "y2"}
          }
        },
        {
          "data": {"name": "ptsB"},
          "mark": {"type": "point", "filled": true, "opacity": 1, "size": 180},
          "encoding": {
            "x": {"field": "i", "type": "quantitative", "scale": {"domain": [0.5, 8.5], "nice": false, "zero": false},
              "axis": {"values": [0.5,1.5,2.5,3.5,4.5,5.5,6.5,7.5,8.5], "labels": false, "ticks": true, "tickSize": 6, "tickWidth": 2, "tickColor": "#7f7f7f", "domainColor": "#7f7f7f", "domainWidth": 2, "grid": false, "title": null}},
            "y": {"field": "v", "type": "quantitative", "scale": {"type": "log", "domain": [10, 100000], "nice": false},
              "axis": {"values": [10,100,1000,10000,100000], "labelExpr": "'1E+0' + round(log(datum.value)/LN10)", "grid": true, "gridColor": "#7f7f7f", "gridWidth": 2, "domainColor": "#7f7f7f", "domainWidth": 2, "tickColor": "#7f7f7f", "tickWidth": 2, "tickSize": 7, "labelFont": "Liberation Sans", "labelFontSize": 23, "labelColor": "black", "labelPadding": 2, "labelFlush": false, "labelOverlap": false, "title": "copies/reaction", "titleFont": "Liberation Sans", "titleFontSize": 24, "titleFontWeight": "normal", "titleColor": "black", "titleX": -110, "titleY": 172, "titleAngle": 270, "titleBaseline": "middle", "titleAlign": "center"}},
            "shape": {"field": "s", "type": "nominal", "scale": {"domain": ["SV40+/ITR+","SV40+/ITR-","SV40-/ITR+"], "range": ["diamond","square","triangle-up"]},
              "legend": {"orient": "none", "legendX": 341, "legendY": 27, "title": null, "strokeColor": "black", "fillColor": "white", "padding": 11, "labelFont": "Liberation Sans", "labelFontSize": 25, "labelColor": "black", "symbolSize": 150, "symbolStrokeWidth": 0, "rowPadding": 5, "labelOffset": 4, "symbolOpacity": 1}},
            "color": {"field": "s", "type": "nominal", "scale": {"domain": ["SV40+/ITR+","SV40+/ITR-","SV40-/ITR+"], "range": ["#EA571E","#3A9A91","#3DCB2C"]},
              "legend": {"orient": "none", "legendX": 341, "legendY": 27, "title": null, "strokeColor": "black", "fillColor": "white", "padding": 11, "labelFont": "Liberation Sans", "labelFontSize": 25, "labelColor": "black", "symbolSize": 150, "symbolStrokeWidth": 0, "rowPadding": 5, "labelOffset": 4, "symbolOpacity": 1}}
          }
        },
        {
          "data": {"name": "capsB"},
          "mark": {"type": "point", "shape": "M-1,-0.4H1V0.4H-1Z", "filled": true, "color": "black", "size": 36, "opacity": 1},
          "encoding": {
            "x": {"field": "i", "type": "quantitative", "scale": {"domain": [0.5, 8.5], "nice": false, "zero": false}},
            "y": {"field": "v", "type": "quantitative", "scale": {"type": "log", "domain": [10, 100000], "nice": false}}
          }
        },
        {
          "data": {"values": [{"t":"1000","i":1.072,"v":4.08},{"t":"fold","i":1.072,"v":1.746},{"t":"dilution","i":1.072,"v":0.767},{"t":"additional 2-fold serial dilution","i":5.509,"v":1.563}]},
          "mark": {"type": "text", "align": "center", "baseline": "middle", "fontSize": 25, "font": "Liberation Sans", "color": "black"},
          "encoding": {
            "x": {"field": "i", "type": "quantitative", "scale": {"domain": [0.5, 8.5], "nice": false, "zero": false}},
            "y": {"field": "v", "type": "quantitative", "scale": {"type": "log", "domain": [10, 100000], "nice": false}},
            "text": {"field": "t"}
          }
        },
        {
          "data": {"values": [{"t":"B","i":-1.105,"v":65000}]},
          "mark": {"type": "text", "align": "center", "baseline": "alphabetic", "fontSize": 32, "fontWeight": "bold", "font": "Liberation Sans", "color": "#111"},
          "encoding": {
            "x": {"field": "i", "type": "quantitative", "scale": {"domain": [0.5, 8.5], "nice": false, "zero": false}},
            "y": {"field": "v", "type": "quantitative", "scale": {"type": "log", "domain": [10, 100000], "nice": false}},
            "text": {"field": "t"}
          }
        }
      ]
    },
    {
      "width": 652,
      "height": 240,
      "view": {"fill": "#F4F4F4", "stroke": "#A6A6A6"},
      "layer": [
        {
          "data": {"name": "ptsC"},
          "mark": {"type": "circle", "size": 17, "opacity": 0.85},
          "encoding": {
            "x": {"field": "x", "type": "quantitative", "scale": {"domain": [0, 5000], "nice": false, "zero": false},
              "axis": {"values": [0,1000,2000,3000,4000,5000], "format": "d", "title": "Channel 2 Amplitude", "titleFont": "Liberation Sans", "titleFontSize": 23, "titleFontWeight": "bold", "titleColor": "#1a1a1a", "titleX": 311, "titleY": 42, "titleBaseline": "middle", "titleAlign": "center", "labelFont": "DejaVu Sans", "labelFontWeight": "bold", "labelFontSize": 14, "labelColor": "#222", "labelPadding": 7, "labelFlush": false, "labelOverlap": false, "labelOffset": {"condition": {"test": "datum.value === 5000", "value": -11}, "value": 0}, "tickSize": 4, "tickColor": "#8a8a8a", "domainColor": "#999", "gridColor": "#DADADA"}},
            "y": {"field": "y", "type": "quantitative", "scale": {"domain": [0, 12000], "nice": false},
              "axis": {"values": [0,2000,4000,6000,8000,10000,12000], "tickCount": 7, "format": "d", "title": "Channel 1 Amplitude", "titleFont": "Liberation Sans", "titleFontSize": 23, "titleFontWeight": "bold", "titleColor": "#1a1a1a", "titleX": -70, "titleY": 126, "titleAngle": 270, "titleBaseline": "middle", "titleAlign": "center", "labelFont": "DejaVu Sans", "labelFontWeight": "bold", "labelFontSize": 14, "labelColor": "#222", "labelPadding": 4, "labelFlush": false, "labelOverlap": false, "labelSeparation": 0, "tickSize": 3, "tickColor": "#8a8a8a", "domainColor": "#999", "gridColor": "#DADADA"}},
            "color": {"field": "c", "type": "nominal", "scale": {"domain": ["k","h","g","b","o","r"], "range": ["#262626","#6b6b6b","#5BE620","#2A86DE","#F45A1E","#BF3A18"]}, "legend": null}
          }
        },
        {
          "data": {"values": [{"t":"SV40+/ITR-","x":117,"y":8715},{"t":"1.47%","x":117,"y":7080},{"t":"SV40-/ITR-","x":81,"y":2580},{"t":"SV40+/ITR+","x":3660,"y":8750},{"t":"96.83%","x":3660,"y":7080},{"t":"SV40-/ITR+","x":3660,"y":2415},{"t":"1.70%","x":3660,"y":750}]},
          "mark": {"type": "text", "align": "left", "baseline": "alphabetic", "fontSize": 24, "font": "Liberation Sans", "color": "#111"},
          "encoding": {
            "x": {"field": "x", "type": "quantitative", "scale": {"domain": [0, 5000], "nice": false, "zero": false}},
            "y": {"field": "y", "type": "quantitative", "scale": {"domain": [0, 12000], "nice": false}},
            "text": {"field": "t"}
          }
        },
        {
          "data": {"values": [{"t":"C","x":-878,"y":12065}]},
          "mark": {"type": "text", "align": "center", "baseline": "alphabetic", "fontSize": 32, "fontWeight": "bold", "font": "Liberation Sans", "color": "#111"},
          "encoding": {
            "x": {"field": "x", "type": "quantitative", "scale": {"domain": [0, 5000], "nice": false, "zero": false}},
            "y": {"field": "y", "type": "quantitative", "scale": {"domain": [0, 12000], "nice": false}},
            "text": {"field": "t"}
          }
        },
        {
          "data": {"values": [{"t":"channel 1:SV40","x":-863,"y":6415}]},
          "mark": {"type": "text", "align": "center", "baseline": "middle", "angle": 270, "fontSize": 24, "font": "Liberation Sans", "color": "#111"},
          "encoding": {
            "x": {"field": "x", "type": "quantitative", "scale": {"domain": [0, 5000], "nice": false, "zero": false}},
            "y": {"field": "y", "type": "quantitative", "scale": {"domain": [0, 12000], "nice": false}},
            "text": {"field": "t"}
          }
        },
        {
          "data": {"values": [{"t":"channel 2:ITR","x":2620,"y":-3985}]},
          "mark": {"type": "text", "align": "center", "baseline": "middle", "fontSize": 24, "font": "Liberation Sans", "color": "#111"},
          "encoding": {
            "x": {"field": "x", "type": "quantitative", "scale": {"domain": [0, 5000], "nice": false, "zero": false}},
            "y": {"field": "y", "type": "quantitative", "scale": {"domain": [0, 12000], "nice": false}},
            "text": {"field": "t"}
          }
        },
        {
          "data": {"values": [{"x1":-679,"x2":-679,"y1":-920,"y2":12300},{"x1":23,"x2":4810,"y1":-3060,"y2":-3060}]},
          "mark": {"type": "rule", "color": "black", "strokeWidth": 1.5},
          "encoding": {
            "x": {"field": "x1", "type": "quantitative", "scale": {"domain": [0, 5000], "nice": false, "zero": false}},
            "x2": {"field": "x2"},
            "y": {"field": "y1", "type": "quantitative", "scale": {"domain": [0, 12000], "nice": false}},
            "y2": {"field": "y2"}
          }
        },
        {
          "data": {"values": [{"x":-679,"y":12390,"s":"triangle-up"},{"x":4842,"y":-3060,"s":"triangle-right"}]},
          "mark": {"type": "point", "filled": true, "color": "black", "size": 60, "opacity": 1},
          "encoding": {
            "x": {"field": "x", "type": "quantitative", "scale": {"domain": [0, 5000], "nice": false, "zero": false}},
            "y": {"field": "y", "type": "quantitative", "scale": {"domain": [0, 12000], "nice": false}},
            "shape": {"field": "s", "type": "nominal", "scale": null, "legend": null}
          }
        }
      ]
    }
  ]
}
